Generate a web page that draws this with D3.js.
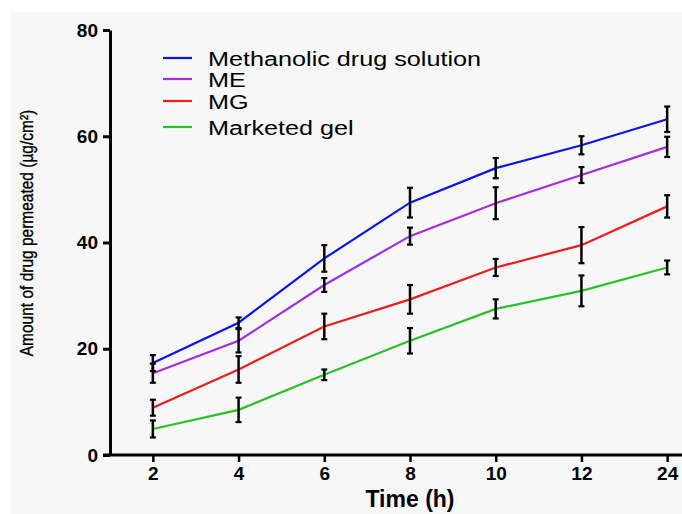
<!DOCTYPE html>
<html>
<head>
<meta charset="utf-8">
<script src="https://cdn.jsdelivr.net/npm/d3@7"></script>
<style>
  body { margin: 0; background: #fff; }
  svg { display: block; font-family: "Liberation Sans", Arial, sans-serif; }
</style>
</head>
<body>
<div id="chart"></div>
<script>
// Dados
const timeLabels = ["2", "4", "6", "8", "10", "12", "24"];
const seriesNames = ["Methanolic drug solution", "ME", "MG", "Marketed gel"];
const seriesColors = ["#0c14ee", "#a32ee0", "#ec1e1e", "#2cbf2c"];

const methanolicMean = [17.3, 24.9, 37.0, 47.5, 54.0, 58.3, 63.2];
const methanolicErr  = [1.5, 1.0, 2.5, 2.8, 1.9, 1.7, 2.4];
const meMean = [15.4, 21.5, 32.0, 41.2, 47.4, 52.7, 58.0];
const meErr  = [1.8, 2.2, 1.3, 1.6, 3.0, 1.5, 1.9];
const mgMean = [8.9, 16.1, 24.2, 29.3, 35.3, 39.5, 46.8];
const mgErr  = [1.5, 2.5, 2.4, 2.7, 1.6, 3.4, 2.1];
const gelMean = [4.9, 8.5, 15.1, 21.5, 27.5, 30.9, 35.3];
const gelErr  = [1.6, 2.3, 1.0, 2.4, 1.8, 2.9, 1.3];

const yTicks = [0, 20, 40, 60, 80];

const allMeans = [methanolicMean, meMean, mgMean, gelMean];
const allErrs = [methanolicErr, meErr, mgErr, gelErr];

const W = 682, H = 514;
const svg = d3.select("#chart").append("svg")
    .attr("width", W)
    .attr("height", H);

// Fundo cinza claro
svg.append("rect")
    .attr("x", 10).attr("y", 12)
    .attr("width", W - 10).attr("height", H - 12)
    .attr("fill", "#f7f7f7");

// Escalas
const x = d3.scalePoint()
    .domain(timeLabels)
    .range([110, 710])
    .padding(0.5);

const y = d3.scaleLinear()
    .domain([0, 80])
    .range([455, 30]);

// Eixo Y
const yAxis = svg.append("g")
    .attr("transform", "translate(110,0)")
    .call(d3.axisLeft(y).tickValues(yTicks).tickSize(7).tickSizeOuter(0).tickPadding(5));
yAxis.select(".domain").attr("stroke", "#000").attr("stroke-width", 3);
yAxis.selectAll(".tick line").attr("stroke", "#000").attr("stroke-width", 3);
yAxis.selectAll(".tick text")
    .attr("fill", "#000")
    .style("font-size", "19px")
    .style("font-weight", "bold")
    .style("font-family", "Liberation Sans, Arial, sans-serif");

// Eixo X
const xAxis = svg.append("g")
    .attr("transform", "translate(0,455)")
    .call(d3.axisBottom(x).tickSize(7).tickSizeOuter(0).tickPadding(5));
xAxis.select(".domain").remove();
xAxis.selectAll(".tick line").attr("stroke", "#000").attr("stroke-width", 2.5);
xAxis.selectAll(".tick text")
    .attr("fill", "#000")
    .style("font-size", "19px")
    .style("font-weight", "bold")
    .style("font-family", "Liberation Sans, Arial, sans-serif");
xAxis.append("line")
    .attr("x1", 103).attr("x2", W)
    .attr("y1", 0).attr("y2", 0)
    .attr("stroke", "#000")
    .attr("stroke-width", 3);

// Legendas dos eixos
svg.append("text")
    .attr("transform", `translate(${x("8")},507)`)
    .attr("text-anchor", "middle")
    .style("font-size", "23px")
    .style("font-weight", "bold")
    .text("Time (h)");

svg.append("text")
    .attr("transform", "translate(33,233) rotate(-90) scale(1,1.15)")
    .attr("text-anchor", "middle")
    .style("font-size", "15.5px")
    .style("stroke", "#000")
    .style("stroke-width", 0.3)
    .text("Amount of drug permeated (µg/cm²)");

// Linhas
const line = d3.line()
    .x((d, i) => x(timeLabels[i]))
    .y(d => y(d));

allMeans.forEach((means, s) => {
    svg.append("path")
        .datum(means)
        .attr("fill", "none")
        .attr("stroke", seriesColors[s])
        .attr("stroke-width", 2.2)
        .attr("d", line);
});

// Barras de erro
allMeans.forEach((means, s) => {
    const g = svg.append("g");
    means.forEach((m, i) => {
        const cx = x(timeLabels[i]);
        const lo = y(m - allErrs[s][i]);
        const hi = y(m + allErrs[s][i]);
        g.append("line")
            .attr("x1", cx).attr("x2", cx)
            .attr("y1", lo).attr("y2", hi)
            .attr("stroke", "#000").attr("stroke-width", 2.5);
        [lo, hi].forEach(yy => {
            g.append("line")
                .attr("x1", cx - 3).attr("x2", cx + 3)
                .attr("y1", yy).attr("y2", yy)
                .attr("stroke", "#000").attr("stroke-width", 2.2);
        });
    });
});

// Legenda
const legendY = [58, 79, 101, 127];
const legend = svg.append("g");
seriesNames.forEach((name, i) => {
    legend.append("line")
        .attr("x1", 163).attr("x2", 192)
        .attr("y1", legendY[i]).attr("y2", legendY[i])
        .attr("stroke", seriesColors[i])
        .attr("stroke-width", 2.2);
    legend.append("text")
        .attr("transform", `translate(208,${legendY[i] + 7.5}) scale(1.2,1)`)
        .style("font-size", "21px")
        .attr("fill", "#000")
        .text(name);
});
</script>
</body>
</html>
